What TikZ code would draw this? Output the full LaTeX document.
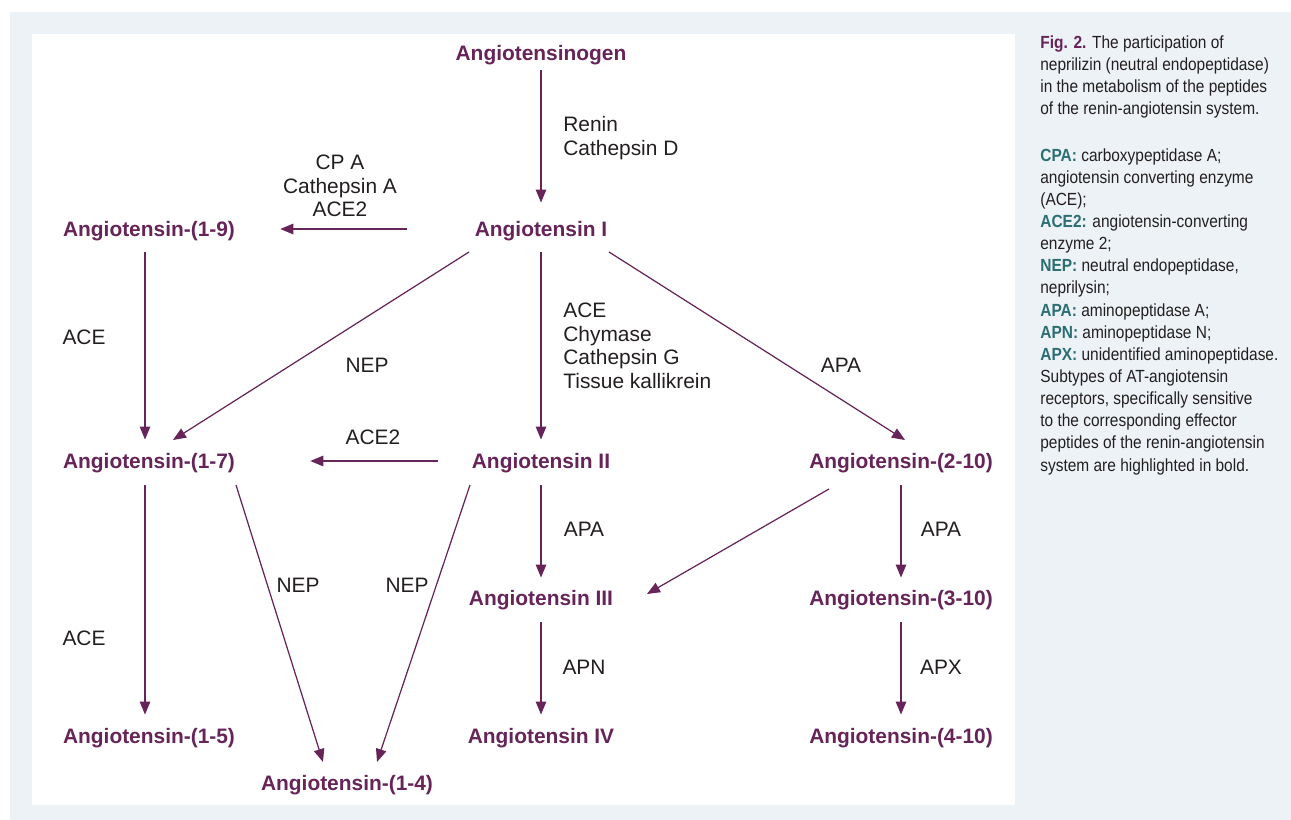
\documentclass[tikz,border=0pt]{standalone}
\usepackage{fontspec}
\setmainfont{Liberation Sans}
\newfontfamily\narrowsans[FakeStretch=0.88]{Liberation Sans}
\usetikzlibrary{arrows.meta}

\begin{document}
\begin{tikzpicture}[x=0.02cm,y=-0.02cm,
  pep/.style={font=\fontsize{11.9}{13.4}\selectfont\bfseries, text=peptide, inner sep=0pt, text height=10pt, text depth=1.5pt},
  enz/.style={font=\fontsize{11.9}{13.4}\selectfont, text=enzyme, inner sep=0pt},
  conv/.style={draw=peptide, line width=0.7pt, -{Triangle[length=0.26cm,width=0.21cm]}},
  note/.style={font=\narrowsans\fontsize{10}{12.6}\selectfont, text=enzyme, inner sep=0pt, anchor=north west, align=left}]
% Define colours
\definecolor{peptide}{RGB}{103,36,88}
\definecolor{legendkey}{RGB}{43,110,116}
\definecolor{panel}{RGB}{237,242,246}
\definecolor{enzyme}{RGB}{35,31,32}

% Draw panels
\useasboundingbox (0,0) rectangle (1291,820);
\fill[panel] (10,12) rectangle (1291,820);
\fill[white] (32,34) rectangle (1015,805);

% Add peptides
\node[pep] (agt) at (541,53) {Angiotensinogen};
\node[pep] (ang1) at (541,229) {Angiotensin I};
\node[pep] (ang19) at (149,229) {Angiotensin-(1-9)};
\node[pep] (ang17) at (149,461) {Angiotensin-(1-7)};
\node[pep] (ang2) at (541,461) {Angiotensin II};
\node[pep] (ang210) at (901,461) {Angiotensin-(2-10)};
\node[pep] (ang3) at (541,598) {Angiotensin III};
\node[pep] (ang310) at (901,598) {Angiotensin-(3-10)};
\node[pep] (ang15) at (149,736) {Angiotensin-(1-5)};
\node[pep] (ang4) at (541,736) {Angiotensin IV};
\node[pep] (ang410) at (901,736) {Angiotensin-(4-10)};
\node[pep] (ang14) at (347,783) {Angiotensin-(1-4)};

% Add enzymes
\node[enz, anchor=west, align=left] (renin) at (563,138) {Renin\\Cathepsin D};
\node[enz, align=center] (cpa) at (340,186) {CP A\\Cathepsin A\\ACE2};
\node[enz] (ace1) at (84,337) {ACE};
\node[enz] (nep1) at (367,365) {NEP};
\node[enz, anchor=west, align=left] (ace2) at (563,346) {ACE\\Chymase\\Cathepsin G\\Tissue kallikrein};
\node[enz] (apa1) at (841,365) {APA};
\node[enz] (acetwo) at (373,437) {ACE2};
\node[enz] (ace3) at (84,638) {ACE};
\node[enz] (nep2) at (298,585) {NEP};
\node[enz] (nep3) at (407,585) {NEP};
\node[enz] (apa2) at (584,529) {APA};
\node[enz] (apa3) at (941,529) {APA};
\node[enz] (apn) at (584,667) {APN};
\node[enz] (apx) at (941,667) {APX};

% Draw conversions
\draw[conv, shorten <=0.14cm, shorten >=0.32cm] (agt.south) -- (ang1.north);
\draw[conv, shorten <=1.34cm, shorten >=0.9cm] (ang1.west) -- (ang19.east);
\draw[conv, shorten <=0.26cm, shorten >=0.22cm] ([xshift=-0.08cm]ang19.south) -- ([xshift=-0.08cm]ang17.north);
\draw[conv] ([shift={(-72,23)}]ang1.center) -- ([shift={(24,-21)}]ang17.center);
\draw[conv, shorten <=0.26cm, shorten >=0.22cm] (ang1.south) -- (ang2.north);
\draw[conv] ([shift={(68,23)}]ang1.center) -- ([shift={(4,-21)}]ang210.center);
\draw[conv, shorten <=0.68cm, shorten >=1.5cm] (ang2.west) -- (ang17.east);
\draw[conv, shorten <=0.28cm, shorten >=0.22cm] ([xshift=-0.08cm]ang17.south) -- ([xshift=-0.08cm]ang15.north);
\draw[conv] ([shift={(87,24)}]ang17.center) -- ([shift={(-24,-21)}]ang14.center);
\draw[conv] ([shift={(-71,24)}]ang2.center) -- ([shift={(30,-21)}]ang14.center);
\draw[conv, shorten <=0.28cm, shorten >=0.2cm] (ang2.south) -- (ang3.north);
\draw[conv] ([shift={(-72,28)}]ang210.center) -- ([shift={(106,-4)}]ang3.center);
\draw[conv, shorten <=0.28cm, shorten >=0.2cm] (ang210.south) -- (ang310.north);
\draw[conv, shorten <=0.28cm, shorten >=0.22cm] (ang3.south) -- (ang4.north);
\draw[conv, shorten <=0.28cm, shorten >=0.22cm] (ang310.south) -- (ang410.north);

% Add caption
\node[note] (caption) at (1040,35) {\textbf{\color{peptide}Fig. 2.} The participation of\\neprilizin (neutral endopeptidase)\\in the metabolism of the peptides\\of the renin-angiotensin system.};
\node[note] (legend) at (1040,148) {\textbf{\color{legendkey}CPA:} carboxypeptidase A;\\angiotensin converting enzyme\\(ACE);\\\textbf{\color{legendkey}ACE2:} angiotensin-converting\\enzyme 2;\\\textbf{\color{legendkey}NEP:} neutral endopeptidase,\\neprilysin;\\\textbf{\color{legendkey}APA:} aminopeptidase A;\\\textbf{\color{legendkey}APN:} aminopeptidase N;\\\textbf{\color{legendkey}APX:} unidentified aminopeptidase.\\Subtypes of AT-angiotensin\\receptors, specifically sensitive\\to the corresponding effector\\peptides of the renin-angiotensin\\system are highlighted in bold.};
\end{tikzpicture}
\end{document}
